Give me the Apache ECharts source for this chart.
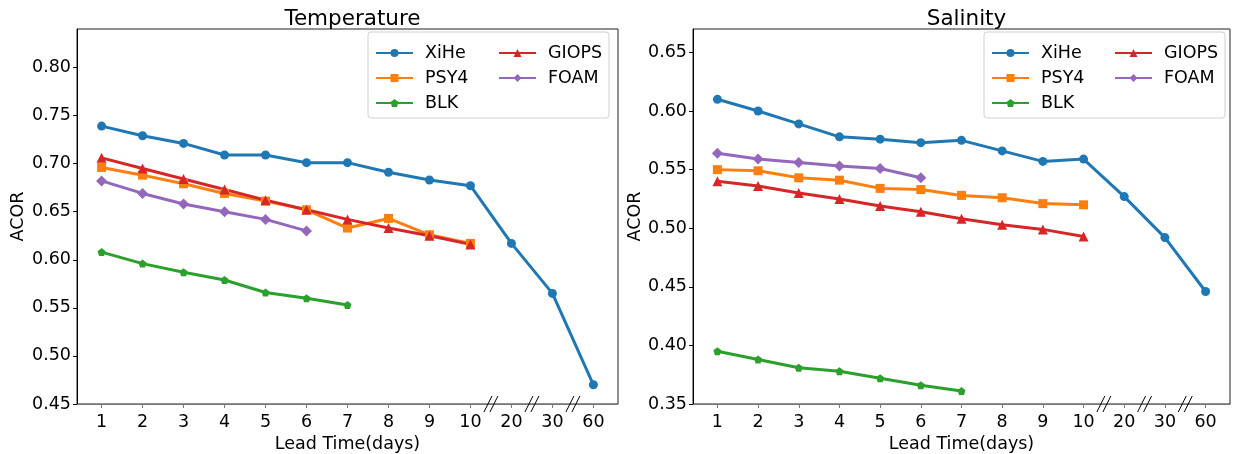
<!DOCTYPE html>
<html>
<head>
<meta charset="utf-8">
<script src="https://cdn.jsdelivr.net/npm/echarts@6/dist/echarts.min.js"></script>
<style>html,body{margin:0;padding:0;background:#fff}#c{width:1235px;height:454px}</style>
</head>
<body>
<div id="c"></div>
<script>
const xLabels = ['1','2','3','4','5','6','7','8','9','10','20','30','60'];
const seriesNames = ['XiHe','PSY4','BLK','GIOPS','FOAM'];

// Temperature (left panel)
const tempXiHe  = [0.739,0.729,0.721,0.709,0.709,0.701,0.701,0.691,0.683,0.677,0.617,0.565,0.470];
const tempPSY4  = [0.696,0.688,0.679,0.669,0.661,0.652,0.633,0.643,0.626,0.617];
const tempBLK   = [0.608,0.596,0.587,0.579,0.566,0.560,0.553];
const tempGIOPS = [0.706,0.695,0.684,0.673,0.662,0.652,0.642,0.633,0.625,0.616];
const tempFOAM  = [0.682,0.669,0.658,0.650,0.642,0.630];

// Salinity (right panel)
const salXiHe  = [0.610,0.600,0.589,0.578,0.576,0.573,0.575,0.566,0.557,0.559,0.527,0.492,0.446];
const salPSY4  = [0.550,0.549,0.543,0.541,0.534,0.533,0.528,0.526,0.521,0.520];
const salBLK   = [0.395,0.388,0.381,0.378,0.372,0.366,0.361];
const salGIOPS = [0.540,0.536,0.530,0.525,0.519,0.514,0.508,0.503,0.499,0.493];
const salFOAM  = [0.564,0.559,0.556,0.553,0.551,0.543];

const tempTicks = [0.45,0.50,0.55,0.60,0.65,0.70,0.75,0.80];
const salTicks  = [0.35,0.40,0.45,0.50,0.55,0.60,0.65];

const colors = {XiHe:'#1f77b4', PSY4:'#ff7f0e', BLK:'#2ca02c', GIOPS:'#d62728', FOAM:'#9467bd'};
const symbols = {
  XiHe: 'circle',
  PSY4: 'rect',
  BLK: 'path://M0,-1L0.951,-0.309L0.588,0.809L-0.588,0.809L-0.951,-0.309Z',
  GIOPS: 'triangle',
  FOAM: 'path://M0,-1L1,0L0,1L-1,0Z'
};
const symSizes = {XiHe:9, PSY4:9, BLK:8, GIOPS:10, FOAM:11};

const FONT = 'DejaVu Sans';
const FS = 17.5;
const grids = [
  {left:77, right:1235-618, top:29, bottom:50},
  {left:693, right:5, top:29, bottom:50}
];

function mkSeries(name, vals, gi){
  return {
    name, type:'line', xAxisIndex:gi, yAxisIndex:gi,
    data: vals.map((v,i)=>[i,v]),
    symbol: symbols[name], symbolSize: symSizes[name], showSymbol:true,
    itemStyle:{color:colors[name]},
    lineStyle:{color:colors[name], width:3},
    emphasis:{disabled:true}, animation:false, z:3
  };
}

function xAxis(gi){
  return {
    type:'value', gridIndex:gi, min:-0.6, max:12.6,
    name:'Lead Time(days)', nameLocation:'middle', nameGap:29,
    nameTextStyle:{fontFamily:FONT, fontSize:FS, color:'#000'},
    axisLine:{show:true, onZero:false, lineStyle:{color:'#777', width:1.2}},
    axisTick:{show:true, customValues:xLabels.map((_,i)=>i), length:4, lineStyle:{color:'#777'}},
    axisLabel:{customValues:xLabels.map((_,i)=>i), formatter:v=>xLabels[Math.round(v)], fontFamily:FONT, fontSize:FS, color:'#000', margin:9},
    splitLine:{show:false}
  };
}
function yAxis(gi, min, max, ticks, gap){
  return {
    type:'value', gridIndex:gi, min, max,
    name:'ACOR', nameLocation:'middle', nameGap:gap,
    nameTextStyle:{fontFamily:FONT, fontSize:FS, color:'#000'},
    axisLine:{show:true, onZero:false, lineStyle:{color:'#000', width:1}},
    axisTick:{show:true, customValues:ticks, length:4, lineStyle:{color:'#000'}},
    axisLabel:{customValues:ticks, formatter:v=>v.toFixed(2), fontFamily:FONT, fontSize:FS, color:'#000', margin:6},
    splitLine:{show:false}
  };
}

function legends(x0, col2){
  const base = {orient:'vertical', top:44, padding:0, itemWidth:37, itemHeight:10, itemGap:7,
    textStyle:{fontFamily:FONT, fontSize:FS, color:'#000', lineHeight:18, padding:[0,0,0,7]}, selectedMode:false, z:10};
  return [
    Object.assign({}, base, {left:x0, data:['XiHe','PSY4','BLK']}),
    Object.assign({}, base, {left:col2, data:['GIOPS','FOAM']})
  ];
}

const chart = echarts.init(document.getElementById('c'), null, {renderer:'canvas'});
const option = {
  backgroundColor:'#fff',
  animation:false,
  title:[
    {text:'Temperature', left:347.5, textAlign:'center', top:3, textStyle:{fontFamily:FONT, fontSize:21.5, fontWeight:'normal', color:'#000'}},
    {text:'Salinity', left:961.5, textAlign:'center', top:3, textStyle:{fontFamily:FONT, fontSize:21.5, fontWeight:'normal', color:'#000'}}
  ],
  grid: grids.map(g=>Object.assign({show:true, borderColor:'#222', borderWidth:1, backgroundColor:'transparent', outerBoundsMode:'none', containLabel:false}, g)),
  xAxis:[xAxis(0), xAxis(1)],
  yAxis:[yAxis(0,0.45,0.84,tempTicks,50), yAxis(1,0.35,0.67,salTicks,47)],
  legend:[].concat(legends(375, 498), legends(991, 1114)),
  series:[
    mkSeries('XiHe', tempXiHe, 0), mkSeries('PSY4', tempPSY4, 0), mkSeries('BLK', tempBLK, 0),
    mkSeries('GIOPS', tempGIOPS, 0), mkSeries('FOAM', tempFOAM, 0),
    mkSeries('XiHe', salXiHe, 1), mkSeries('PSY4', salPSY4, 1), mkSeries('BLK', salBLK, 1),
    mkSeries('GIOPS', salGIOPS, 1), mkSeries('FOAM', salFOAM, 1)
  ]
};
chart.setOption(option);

// Legend boxes and axis-break marks, positioned via the chart's own scales
const g = [];
[[368,32],[984,32]].forEach(([x,y])=>{
  g.push({type:'rect', shape:{x:x, y:y, width:241, height:86, r:3},
    style:{fill:'rgba(255,255,255,0.8)', stroke:'#d0d0d0', lineWidth:1}, z:1});
});
const yMins = [0.45, 0.35];
[0,1].forEach(gi=>{
  [9.5,10.5,11.5].forEach(xb=>{
    const p = chart.convertToPixel({gridIndex:gi}, [xb, yMins[gi]]);
    [-3,3].forEach(dx=>{
      g.push({type:'line', shape:{x1:p[0]+dx-4, y1:p[1]+8, x2:p[0]+dx+4, y2:p[1]-8},
        style:{stroke:'#000', lineWidth:1}, z:20});
    });
  });
});
chart.setOption({graphic:g});
</script>
</body>
</html>
